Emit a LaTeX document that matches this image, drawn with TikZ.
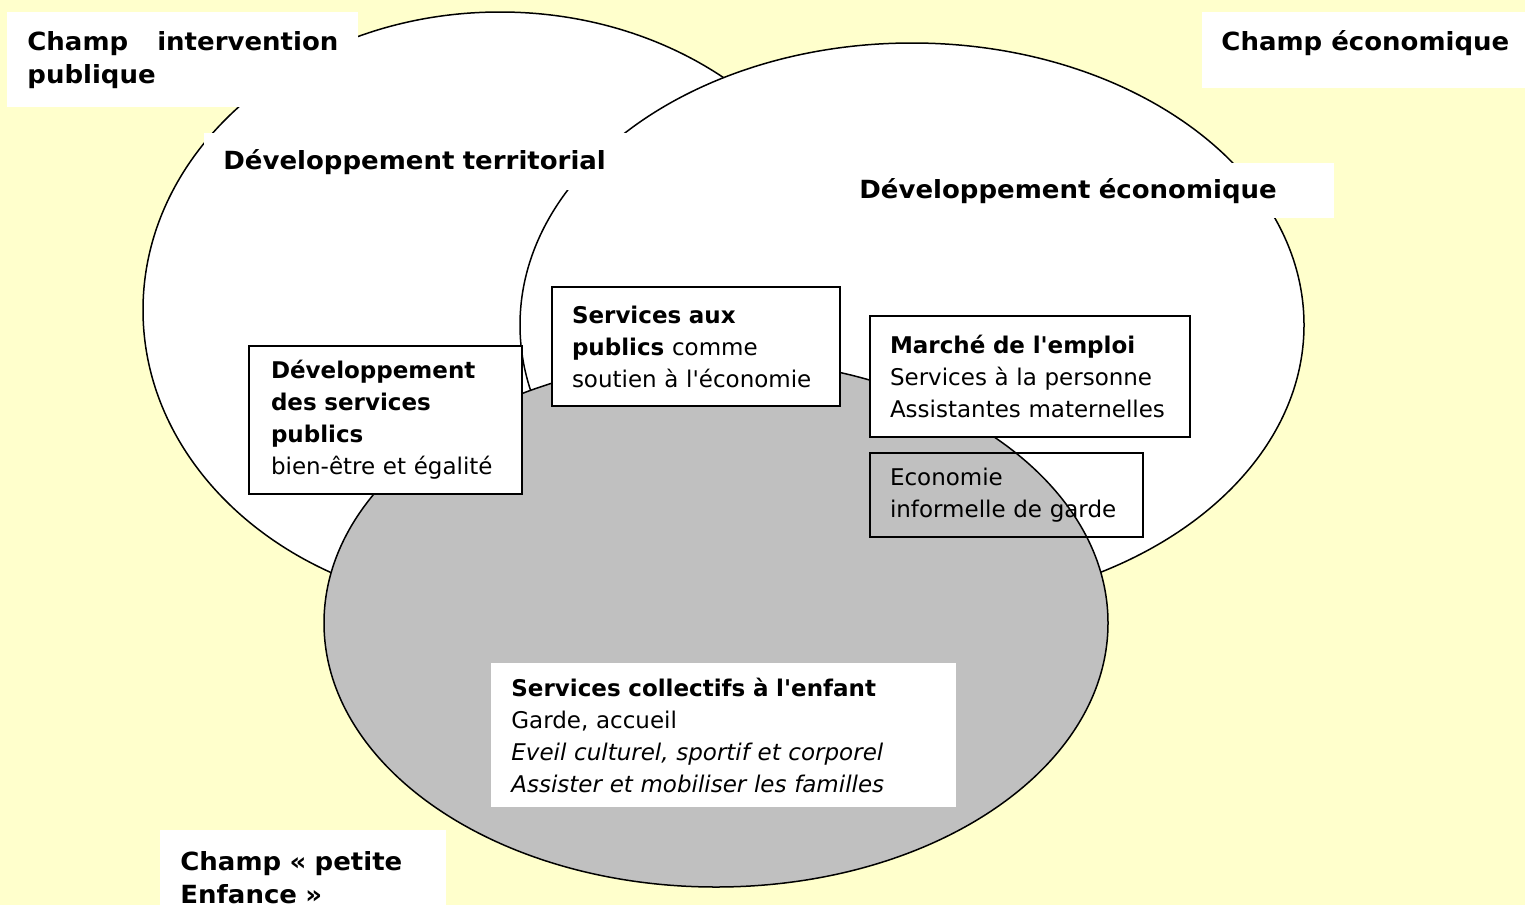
\documentclass[tikz,border=0pt]{standalone}
\usepackage{fontspec}
\setmainfont{DejaVu Sans}[Ligatures=TeXOff]
\newfontfamily\titrefont{DejaVu Sans}[FakeStretch=1.04, Ligatures=TeXOff]
\usepackage{tikz}
\definecolor{fond}{HTML}{FFFFCC}
\definecolor{gris}{HTML}{C0C0C0}
\tikzset{
	champ/.style={fill=white, anchor=north west, inner xsep=10pt, inner ysep=0pt, align=left},
	titre/.style={champ, font=\titrefont\bfseries\fontsize{12.5pt}{16.25pt}\selectfont},
	cadre/.style={draw, line width=1pt, fill=white, anchor=north west, inner xsep=10pt, inner ysep=0pt, align=left},
	cadrevide/.style={draw, line width=1pt, anchor=north west, inner xsep=10pt, inner ysep=0pt, align=left},
	bulle/.style={draw, line width=0.75pt}
}

\begin{document}
\begin{tikzpicture}[x=0.5pt, y=-0.5pt, every node/.style={font=\fontsize{11.5pt}{16pt}\selectfont}]
		%%%%% START %%%%%
		\useasboundingbox (0,0) rectangle (1525,905);
		\fill[fond] (0,0) rectangle (1525,905);
		
		% les trois champs
		\draw[bulle, fill=white] (500,310) ellipse [x radius=178.5pt, y radius=149pt];
		\draw[bulle, fill=white] (912,325) ellipse [x radius=196pt, y radius=141pt];
		\draw[bulle, fill=gris] (716,623) ellipse [x radius=196pt, y radius=132pt];
		
		\node[titre, text width=155.5pt, minimum height=47.5pt, align=justify] (champpub) at (7,12)
			{Champ intervention publique};
		\node[titre, inner xsep=9.5pt, minimum width=161.5pt, text height=19pt, text depth=19pt] (champeco) at (1202,12)
			{Champ économique};
		\node[titre, text width=123pt, minimum height=47.5pt] (champenf) at (160,830)
			{Champ « petite\\Enfance »};
		
		\node[titre, inner xsep=9.5pt, text width=199pt, minimum height=28.5pt] (devterr) at (204,133)
			{Développement territorial};
		\node[titre, inner xsep=9.5pt, text width=228pt, minimum height=27.5pt] (deveco) at (840,163)
			{Développement économique};
		
		% les encadres
		\node[cadre, inner xsep=11pt, text width=114.5pt, minimum height=74pt] (servpubl) at (248,345)
			{\textbf{Développement}\\\textbf{des services}\\\textbf{publics}\\bien-être et égalité};
		\node[cadre, text width=124pt, minimum height=59.5pt] (servaux) at (551,286)
			{\textbf{Services aux}\\\textbf{publics} comme\\soutien à l'économie};
		\node[cadre, text width=140pt, minimum height=60.5pt] (marche) at (869,315)
			{\textbf{Marché de l'emploi}\\Services à la personne\\Assistantes maternelles};
		\node[cadrevide, text width=116.5pt, minimum height=42pt] (informel) at (869,452)
			{Economie\\informelle de garde};
		\node[champ, text width=212.5pt, minimum height=72pt] (servcoll) at (491,663)
			{\textbf{Services collectifs à l'enfant}\\Garde, accueil\\\textit{Eveil culturel, sportif et corporel}\\\textit{Assister et mobiliser les familles}};
		%%%%% END %%%%%
\end{tikzpicture}
\end{document}
